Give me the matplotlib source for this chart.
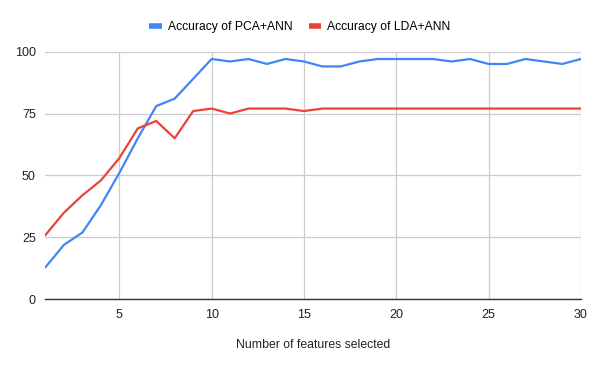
import matplotlib
matplotlib.use("Agg")
import matplotlib.pyplot as plt

plt.rcParams['font.family'] = ['Liberation Sans', 'DejaVu Sans']

features = list(range(1, 31))
pca_ann = [13, 22, 27, 38, 51, 65, 78, 81, 89, 97,
           96, 97, 95, 97, 96, 94, 94, 96, 97, 97,
           97, 97, 96, 97, 95, 95, 97, 96, 95, 97]
lda_ann = [26, 35, 42, 48, 57, 69, 72, 65, 76, 77,
           75, 77, 77, 77, 76, 77, 77, 77, 77, 77,
           77, 77, 77, 77, 77, 77, 77, 77, 77, 77]
y_ticks = [0, 25, 50, 75, 100]
x_ticks = [5, 10, 15, 20, 25, 30]

fig = plt.figure(figsize=(6, 3.71), dpi=100)
ax = fig.add_axes([0.0758, 0.193, 0.8922, 0.668])

ax.plot(features, pca_ann, color='#4285F4', lw=1.6, label='Accuracy of PCA+ANN', zorder=3)
ax.plot(features, lda_ann, color='#EA4335', lw=1.6, label='Accuracy of LDA+ANN', zorder=3)

ax.set_xlim(1, 30)
ax.set_ylim(0, 100)
ax.set_xticks(x_ticks)
ax.set_yticks(y_ticks)
ax.grid(True, color='#cccccc', lw=0.9)
ax.set_axisbelow(True)
for s in ['top', 'right', 'left']:
    ax.spines[s].set_visible(False)
ax.spines['bottom'].set_color('#333333')
ax.spines['bottom'].set_linewidth(1.0)
ax.tick_params(length=0, labelsize=9, colors='#222222', pad=7)

ax.set_xlabel('Number of features selected', fontsize=8.8, color='#222222', labelpad=13)

leg = fig.legend(loc='center', bbox_to_anchor=(0.5, 0.927), ncol=2, frameon=False,
                 fontsize=8.7, handlelength=1.05, handletextpad=0.5, columnspacing=1.3)
for line in leg.get_lines():
    line.set_linewidth(4)
    line.set_solid_capstyle('butt')

fig.savefig('out.png', dpi=100)
